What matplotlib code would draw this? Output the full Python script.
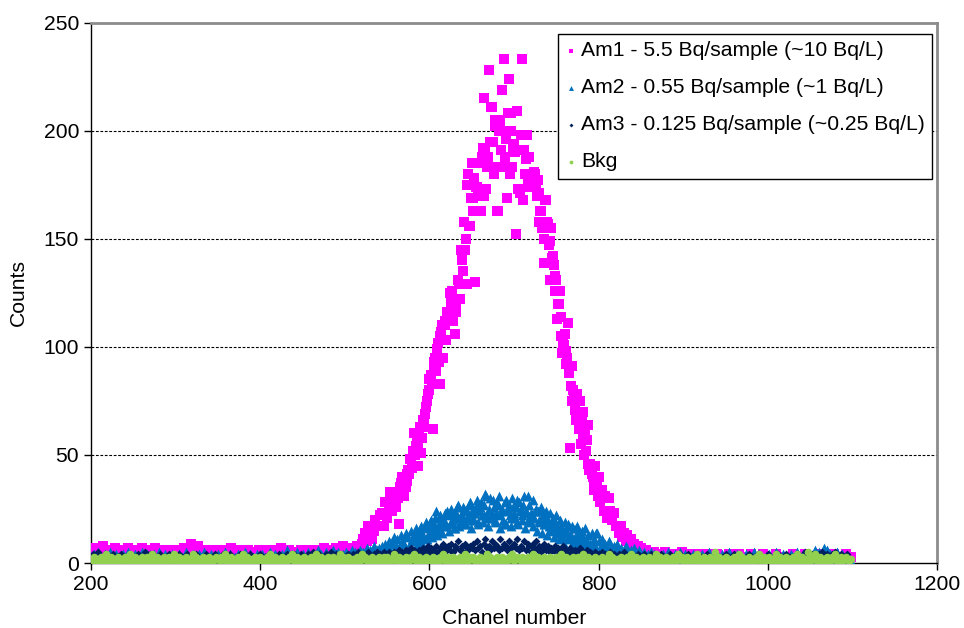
import numpy as np
import matplotlib
matplotlib.use('Agg')
import matplotlib.pyplot as plt

plt.rcParams['font.family'] = ['Liberation Sans', 'DejaVu Sans']
FONT_SIZE = 15.2

# counts every 2 channels, split into three ranges: 200-498, 500-870, 872-1098
LOW_START, PEAK_START, HIGH_START = 200, 500, 872

am1_low = [5, 3, 7, 2, 4, 6, 3, 8, 4, 2, 5, 3, 6, 4, 7, 3, 5, 2, 4, 6, 3, 5, 7, 2, 4,
           3, 6, 4, 2, 5, 7, 3, 4, 6, 2, 5, 3, 4, 7, 2, 5, 6, 3, 4, 5, 2, 6, 3, 4, 5,
           4, 2, 6, 5, 3, 7, 4, 2, 5, 9, 3, 6, 4, 8, 2, 5, 3, 4, 6, 2, 5, 4, 3, 6, 2,
           4, 5, 3, 6, 2, 4, 5, 3, 7, 4, 2, 5, 6, 3, 4, 2, 5, 3, 6, 4, 3, 5, 2, 4, 6,
           3, 4, 6, 2, 5, 3, 4, 2, 6, 5, 3, 4, 7, 2, 5, 3, 4, 6, 3, 2, 5, 4, 3, 5, 6,
           2, 4, 5, 3, 6, 4, 2, 5, 3, 6, 4, 5, 3, 7, 4, 5, 3, 6, 4, 5, 7, 4, 6, 5, 8]
am1_peak = [6, 5, 6, 4, 6, 7, 5, 8, 8, 7, 9, 11, 14, 10, 17, 12, 11, 15, 20, 17, 17, 22, 23, 17, 28,
            21, 24, 33, 24, 28, 28, 31, 18, 37, 40, 31, 35, 38, 41, 48, 45, 60, 54, 45, 60, 51, 63, 65, 72, 78,
            85, 87, 62, 93, 89, 102, 83, 107, 95, 110, 103, 114, 125, 118, 112, 106, 119, 131, 122, 141, 135, 145, 129, 180, 156,
            185, 169, 130, 174, 170, 163, 188, 215, 192, 183, 228, 195, 211, 180, 205, 163, 200, 202, 219, 233, 196, 169, 224, 208, 183,
            194, 152, 209, 173, 198, 233, 191, 187, 176, 188, 180, 174, 181, 175, 177, 171, 163, 158, 139, 168, 157, 149, 155, 142, 133,
            131, 120, 126, 114, 102, 106, 98, 111, 53, 91, 80, 71, 78, 66, 75, 68, 70, 61, 57, 64, 46, 41, 37, 45, 37,
            40, 28, 34, 24, 31, 21, 30, 24, 20, 23, 17, 17, 14, 17, 12, 14, 10, 13, 9, 11, 8, 9, 6, 8, 5,
            7, 6, 4, 6, 3, 5, 4, 3, 5, 2, 3]
# odd channels 561-799 under the peak
am1_odd = [26, 30, 35, 33, 38, 36, 41, 43, 48, 44, 52, 50, 57, 55, 63, 58, 66, 69, 75, 80,
           85, 83, 90, 95, 99, 93, 105, 110, 103, 112, 116, 114, 122, 126, 119, 116, 122, 129, 145, 140,
           158, 150, 175, 156, 169, 163, 178, 174, 185, 170, 163, 192, 170, 173, 188, 183, 211, 195, 202, 183,
           163, 205, 191, 183, 188, 200, 208, 180, 200, 192, 190, 209, 173, 171, 191, 168, 180, 198, 188, 174,
           174, 177, 180, 170, 158, 163, 155, 150, 168, 158, 147, 131, 141, 138, 126, 113, 120, 105, 97, 101,
           92, 95, 88, 82, 75, 78, 66, 70, 62, 55, 58, 50, 52, 46, 43, 45, 40, 34, 38, 31]
am1_high = [4, 2, 3, 5, 1, 3, 4, 2, 3, 1, 4, 2, 3, 5, 2, 1, 3, 4, 2, 3, 1, 2, 4, 3, 2,
            3, 1, 2, 4, 2, 3, 1, 3, 2, 4, 1, 2, 3, 2, 1, 3, 4, 2, 1, 3, 2, 2, 4, 1, 3,
            2, 3, 1, 2, 4, 3, 1, 2, 3, 2, 1, 4, 2, 3, 1, 2, 3, 1, 2, 4, 2, 1, 3, 2, 3,
            1, 2, 3, 2, 4, 1, 3, 2, 1, 3, 2, 4, 1, 2, 3, 1, 2, 3, 2, 1, 4, 2, 3, 1, 2,
            3, 2, 1, 4, 2, 3, 1, 2, 3, 2, 4, 1, 2, 3]

am2_low = [3, 1, 4, 2, 5, 2, 3, 1, 4, 3, 2, 5, 1, 3, 2, 4, 3, 1, 2, 4, 3, 2, 5, 1, 3,
           2, 4, 1, 3, 2, 5, 3, 1, 4, 2, 3, 1, 4, 2, 3, 5, 2, 1, 3, 4, 2, 3, 1, 4, 2,
           3, 2, 4, 1, 3, 2, 5, 3, 1, 2, 4, 3, 2, 1, 4, 3, 2, 5, 1, 3, 2, 4, 3, 1, 2,
           4, 2, 3, 1, 5, 2, 3, 4, 1, 2, 3, 2, 4, 1, 3, 2, 5, 3, 2, 4, 1, 3, 2, 4, 3,
           2, 4, 1, 3, 2, 3, 5, 2, 1, 4, 2, 3, 1, 4, 3, 2, 6, 3, 2, 4, 1, 3, 5, 2, 3,
           4, 2, 3, 5, 1, 3, 2, 4, 3, 6, 2, 4, 3, 2, 5, 3, 4, 2, 6, 3, 4, 5, 3, 2, 4]
am2_peak = [3, 5, 2, 4, 6, 3, 5, 4, 2, 6, 4, 5, 3, 7, 4, 6, 5, 8, 4, 6, 7, 5, 8, 6, 9,
            7, 10, 6, 9, 12, 8, 11, 7, 13, 10, 9, 14, 12, 8, 15, 11, 13, 16, 10, 14, 17, 12, 16, 19, 13,
            17, 20, 14, 18, 24, 16, 21, 15, 19, 23, 17, 22, 18, 25, 20, 16, 23, 27, 19, 22, 26, 18, 24, 21, 28,
            20, 25, 23, 29, 19, 26, 22, 27, 32, 21, 24, 30, 23, 26, 20, 28, 31, 22, 25, 18, 29, 24, 27, 21, 30,
            23, 26, 19, 28, 25, 22, 31, 24, 20, 27, 23, 29, 21, 25, 24, 19, 26, 22, 18, 24, 20, 23, 17, 21, 19,
            22, 16, 20, 17, 14, 19, 15, 18, 13, 17, 16, 12, 17, 14, 11, 15, 12, 16, 10, 13, 9, 14, 11, 8, 14,
            10, 7, 11, 8, 9, 6, 10, 7, 5, 8, 6, 9, 5, 7, 4, 6, 8, 5, 3, 6, 4, 7, 5, 3, 6,
            4, 2, 5, 3, 4, 2, 5, 3, 4, 2, 3]
# odd channels 581-799 under the peak
am2_odd = [10, 14, 8, 12, 15, 9, 13, 17, 11, 14,
           19, 12, 16, 21, 13, 18, 22, 14, 20, 17,
           24, 15, 19, 23, 16, 21, 26, 17, 22, 19,
           25, 18, 21, 27, 16, 23, 20, 26, 18, 24,
           28, 19, 22, 31, 17, 25, 21, 29, 19, 23,
           27, 16, 24, 20, 28, 18, 25, 22, 17, 26,
           21, 29, 18, 24, 20, 27, 16, 23, 31, 19,
           22, 17, 24, 15, 20, 24, 14, 18, 21, 13,
           17, 15, 19, 12, 16, 14, 11, 15, 12, 9,
           14, 11, 17, 8, 12, 10, 16, 9, 11, 7,
           10, 8, 6, 9, 7, 5, 8, 6, 14, 5]
am2_high = [3, 2, 4, 1, 3, 5, 2, 3, 1, 4, 2, 3, 5, 1, 2, 4, 3, 2, 1, 3, 4, 2, 3, 1, 2,
            4, 2, 3, 1, 5, 2, 3, 2, 4, 1, 3, 2, 4, 3, 1, 2, 5, 3, 2, 1, 3, 4, 2, 3, 1,
            2, 4, 1, 3, 2, 3, 5, 1, 2, 4, 3, 2, 1, 3, 2, 4, 3, 1, 2, 5, 2, 3, 1, 4, 2,
            3, 1, 2, 4, 3, 2, 5, 1, 3, 2, 4, 2, 3, 1, 4, 3, 2, 6, 3, 5, 2, 4, 7, 3, 6,
            2, 4, 3, 1, 3, 5, 2, 3, 4, 2, 1, 3, 2, 1]

am3_low = [2, 4, 1, 3, 5, 2, 1, 3, 4, 2, 1, 3, 2, 4, 1, 2, 3, 1, 4, 2, 3, 1, 2, 4, 3,
           1, 3, 2, 4, 1, 2, 3, 5, 1, 2, 4, 3, 1, 2, 3, 1, 4, 2, 3, 1, 2, 4, 1, 3, 2,
           3, 1, 4, 2, 1, 3, 2, 4, 1, 3, 2, 1, 4, 3, 2, 1, 3, 2, 4, 1, 2, 3, 1, 4, 2,
           1, 3, 2, 4, 3, 1, 2, 4, 1, 3, 2, 3, 1, 4, 2, 1, 3, 2, 1, 4, 3, 2, 1, 3, 2,
           4, 2, 1, 3, 2, 4, 1, 3, 2, 1, 3, 4, 2, 1, 3, 2, 4, 3, 1, 2, 4, 1, 3, 2, 4,
           2, 3, 1, 4, 2, 3, 5, 1, 3, 2, 4, 3, 1, 2, 4, 3, 2, 5, 3, 2, 4, 3, 2, 4, 3]
am3_peak = [3, 2, 4, 3, 1, 4, 2, 3, 5, 2, 3, 4, 2, 3, 5, 3, 2, 4, 3, 5, 2, 4, 3, 5, 4,
            3, 5, 4, 2, 5, 3, 4, 6, 3, 5, 4, 6, 3, 5, 7, 4, 6, 5, 3, 6, 4, 7, 5, 6, 8,
            5, 7, 4, 6, 8, 5, 7, 6, 9, 5, 7, 8, 6, 9, 5, 8, 7, 10, 6, 8, 5, 9, 7, 6, 8,
            7, 9, 6, 10, 7, 8, 5, 9, 11, 7, 8, 6, 10, 7, 9, 8, 6, 11, 7, 9, 8, 6, 10, 7, 8,
            9, 7, 11, 6, 8, 7, 10, 6, 9, 8, 5, 9, 7, 10, 6, 8, 5, 7, 9, 6, 8, 5, 7, 6, 8,
            5, 7, 4, 6, 8, 5, 6, 4, 7, 5, 3, 6, 4, 5, 7, 3, 5, 4, 6, 3, 5, 4, 2, 5, 3,
            4, 2, 5, 3, 4, 2, 3, 5, 2, 4, 3, 1, 4, 2, 3, 5, 2, 3, 1, 4, 2, 3, 2, 4, 1,
            3, 2, 4, 1, 3, 2, 4, 2, 1, 3, 2]
am3_high = [2, 4, 1, 3, 2, 1, 4, 3, 2, 1, 3, 2, 4, 1, 2, 3, 1, 4, 2, 3, 1, 2, 3, 4, 1,
            3, 2, 1, 4, 2, 3, 1, 2, 4, 1, 3, 2, 3, 1, 4, 2, 1, 3, 2, 4, 3, 1, 2, 3, 2,
            1, 3, 2, 4, 1, 2, 3, 1, 4, 2, 3, 2, 1, 3, 4, 2, 1, 3, 2, 1, 4, 2, 3, 1, 2,
            4, 1, 3, 2, 1, 3, 2, 4, 1, 3, 2, 5, 1, 2, 3, 4, 2, 3, 1, 4, 2, 5, 3, 2, 4,
            3, 1, 4, 2, 5, 3, 2, 4, 1, 3, 2, 4, 1, 2]

# background over the whole range, 200-1098
bkg = [2, 1, 3, 2, 0, 2, 3, 1, 2, 4, 1, 2, 3, 1, 2, 0, 3, 2, 1, 2, 3, 1, 2, 4, 1,
       2, 3, 1, 2, 0, 3, 2, 1, 3, 2, 1, 4, 2, 1, 3, 2, 0, 2, 3, 1, 2, 3, 1, 2, 4,
       1, 2, 3, 0, 2, 1, 3, 2, 1, 2, 4, 1, 3, 2, 1, 2, 3, 0, 2, 1, 3, 2, 1, 2, 3,
       2, 1, 3, 2, 4, 1, 2, 0, 3, 2, 1, 2, 3, 1, 2, 4, 1, 3, 2, 1, 2, 0, 3, 2, 1,
       3, 2, 1, 2, 3, 1, 4, 2, 1, 3, 2, 0, 2, 3, 1, 2, 1, 3, 2, 4, 1, 2, 3, 1, 2,
       1, 3, 2, 0, 2, 3, 1, 2, 4, 1, 2, 3, 1, 2, 0, 3, 2, 1, 3, 2, 1, 2, 4, 1, 3,
       2, 1, 3, 2, 1, 2, 0, 3, 2, 1, 4, 2, 3, 1, 2, 1, 3, 2, 0, 2, 3, 1, 2, 3, 1,
       3, 2, 1, 2, 4, 1, 2, 3, 1, 2, 0, 3, 2, 1, 3, 2, 4, 1, 2, 3, 1, 2, 1, 3, 2,
       1, 2, 3, 1, 2, 0, 3, 2, 4, 1, 2, 3, 1, 2, 3, 1, 2, 0, 3, 2, 1, 4, 2, 1, 3,
       2, 3, 1, 2, 1, 3, 2, 0, 2, 4, 1, 3, 2, 1, 2, 3, 1, 2, 3, 0, 2, 1, 3, 2, 4,
       1, 2, 3, 2, 1, 3, 0, 2, 3, 1, 2, 4, 1, 2, 3, 1, 2, 1, 3, 2, 0, 3, 2, 1, 2,
       3, 1, 2, 4, 1, 2, 3, 1, 2, 0, 3, 2, 1, 3, 2, 1, 4, 2, 1, 3, 2, 1, 2, 3, 0,
       2, 1, 3, 2, 1, 2, 4, 1, 3, 2, 0, 2, 1, 3, 2, 1, 2, 3, 1, 4, 2, 1, 3, 2, 1,
       2, 3, 1, 2, 0, 3, 2, 1, 2, 4, 1, 3, 2, 1, 2, 3, 0, 2, 1, 3, 2, 1, 4, 2, 3,
       1, 2, 3, 1, 2, 1, 3, 2, 4, 1, 2, 0, 3, 2, 1, 2, 3, 1, 2, 5, 1, 3, 2, 1, 2,
       3, 1, 2, 0, 2, 3, 1, 2, 4, 1, 3, 2, 1, 2, 3, 1, 2, 0, 3, 2, 4, 1, 2, 3, 1,
       2, 3, 1, 2, 1, 4, 2, 3, 1, 2, 0, 3, 2, 1, 2, 3, 1, 4, 2, 1, 3, 2, 1, 2, 5,
       1, 3, 2, 4, 1, 2, 3, 1, 2, 0, 3, 2, 1, 3, 2, 4, 1, 2, 3, 1, 2, 3, 2, 1, 2]

labels = ['Am1 - 5.5 Bq/sample (~10 Bq/L)', 'Am2 - 0.55 Bq/sample (~1 Bq/L)',
          'Am3 - 0.125 Bq/sample (~0.25 Bq/L)', 'Bkg']
colors = ['#FF00FF', '#0070C0', '#002060', '#92D050']


def channels(start, values):
    return start + 2 * np.arange(len(values))


def join(parts):
    x = np.concatenate([channels(start, vals) for start, vals in parts])
    y = np.concatenate([vals for start, vals in parts])
    return x, y


series = [join([(LOW_START, am1_low), (PEAK_START, am1_peak), (561, am1_odd), (HIGH_START, am1_high)]),
          join([(LOW_START, am2_low), (PEAK_START, am2_peak), (581, am2_odd), (HIGH_START, am2_high)]),
          join([(LOW_START, am3_low), (PEAK_START, am3_peak), (HIGH_START, am3_high)]),
          join([(LOW_START, bkg)])]
markers = ['s', '^', 'D', 'o']
sizes = [42, 50, 16, 30]

fig = plt.figure(figsize=(9.64, 6.28), dpi=100)
ax = fig.add_axes([0.0944, 0.1035, 0.8776, 0.8604])

for (x, y), lab, col, mk, sz in zip(series, labels, colors, markers, sizes):
    ax.scatter(x, y, s=sz, marker=mk, color=col, linewidths=0, label=lab, zorder=3)

ax.set_xlim(200, 1200)
ax.set_ylim(0, 250)
ax.set_xticks(range(200, 1201, 200))
ax.set_yticks(range(0, 251, 50))
ax.tick_params(direction='out', length=5, width=1, labelsize=FONT_SIZE, colors='black')
for yv in [50, 100, 150, 200]:
    ax.axhline(yv, color='black', lw=0.8, ls=(0, (2.5, 1.5)), zorder=1)

for side in ['top', 'right']:
    ax.spines[side].set_color('#8c8c8c')
    ax.spines[side].set_linewidth(2)
for side in ['left', 'bottom']:
    ax.spines[side].set_color('black')
    ax.spines[side].set_linewidth(1)

ax.set_xlabel('Chanel number', fontsize=FONT_SIZE)
ax.set_ylabel('Counts', fontsize=FONT_SIZE)
ax.yaxis.set_label_coords(-0.0745, 0.5)
ax.xaxis.set_label_coords(0.5, -0.086)

leg = ax.legend(loc='upper right', bbox_to_anchor=(0.994, 0.979), borderaxespad=0,
                fontsize=FONT_SIZE, markerscale=0.5, handletextpad=0.15,
                handlelength=0.6, labelspacing=0.85, fancybox=False, framealpha=1,
                edgecolor='black', borderpad=0.35)
leg.get_frame().set_linewidth(1)

fig.savefig('out.png', dpi=100)
